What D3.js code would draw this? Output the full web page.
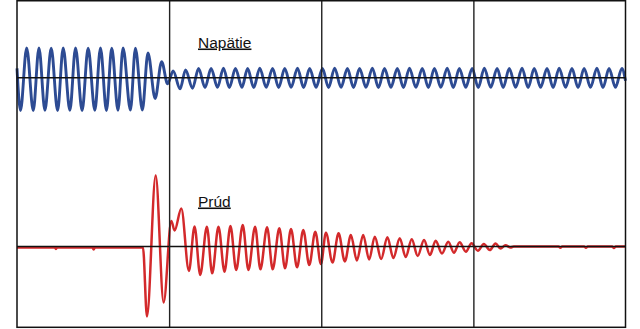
<!DOCTYPE html>
<html>
<head>
<meta charset="utf-8">
<script src="https://cdn.jsdelivr.net/npm/d3@7"></script>
<style>
  body { margin: 0; background: #fff; }
  svg { display: block; }
</style>
</head>
<body>
<script>
// peaks: [time ms, value]
const napatie = [
  [0,0.30],[5.7,-1.06],[15.9,0.96],[26.7,-1.06],[36.1,0.96],[45.9,-1.05],[56.2,0.95],[66.7,-1.06],
  [75.9,0.96],[86.9,-1.05],[96.2,0.96],[107,-1.06],[116.9,0.95],[127.9,-1.05],[137.2,0.96],[147,-1.06],
  [155.7,0.95],[166,-1.05],[174.3,0.96],[186.4,-1.04],[194.6,0.95],[206,-1.04],
  [215.2,0.80],[227,-0.67],[237.7,0.52],[247.5,-0.20],[256.6,0.22],[268,-0.36],[277,0.25],[288.5,-0.34],[298.4,0.30],
  [309,-0.32],[319,0.30],[329.5,-0.31],[339.3,0.31],[349,-0.32],[359,0.30],[369.7,-0.31],[379,0.30],
  [389,-0.32],[399,0.31],[409.5,-0.31],[420,0.30],[430,-0.32],[440,0.30],[450.5,-0.31],[461,0.31],
  [471,-0.32],[481,0.30],[491.5,-0.31],[502,0.30],[512,-0.32],[522,0.31],[532.5,-0.31],[543,0.30],
  [553,-0.32],[563,0.30],[573.5,-0.31],[584,0.31],[594,-0.32],[604,0.30],[614.5,-0.31],[625,0.30],
  [635,-0.32],[645,0.31],[655.5,-0.31],[666,0.30],[676,-0.32],[686,0.30],[696.5,-0.31],[707,0.31],
  [717,-0.32],[727,0.30],[737.5,-0.31],[748,0.30],[758,-0.32],[768,0.31],[778.5,-0.31],[789,0.30],
  [799,-0.32],[809,0.30],[819.5,-0.31],[830,0.31],[840,-0.32],[850,0.30],[860.5,-0.31],[871,0.30],
  [881,-0.32],[891,0.31],[901.5,-0.31],[912,0.30],[922,-0.32],[932,0.30],[942.5,-0.31],[953,0.31],
  [963,-0.32],[973,0.30],[983.5,-0.31],[994,0.30],[1000,-0.10]
];

const prud = [
  [0,-0.1],[62,-0.1],[64,-0.25],[66,-0.1],[124,-0.1],[126,-0.3],[128,-0.1],
  [207,-0.1],[213.6,-7.0],[227.9,7.1],[241,-5.6],[253.6,2.55],[259,1.6],[270,3.8],
  [282.5,-2.45],[291.8,2.0],[301.1,-2.85],[312,1.98],[320.8,-2.68],[331.1,1.98],[341,-2.52],
  [350.8,2.05],[360.2,-2.35],[371,2.15],[380.3,-2.35],[391.3,1.98],[400,-2.28],[411,1.92],
  [420.2,-2.28],[431.1,1.82],[440.5,-2.18],[450.3,1.75],[460.2,-2.08],[470.5,1.65],[480.3,-1.85],
  [490.2,1.48],[499.5,-1.75],[507.7,1.38],[518.5,-1.6],[528.4,1.32],[538.8,-1.5],[548.7,1.15],
  [558.5,-1.4],[568.9,1.15],[578.7,-1.3],[588,0.98],[598.4,-1.25],[608.7,0.92],[618.5,-1.15],
  [629,0.82],[638.8,-1.05],[648.7,0.72],[658.5,-0.95],[668.9,0.65],[678.7,-0.85],[688,0.58],
  [698.4,-0.7],[708.7,0.48],[718,-0.62],[727.4,0.42],[737.7,-0.52],[747,0.32],[757.4,-0.42],
  [767.2,0.25],[777,-0.35],[786.4,0.3],[794.6,-0.2],[802.8,0.12],[811,-0.1],[816.4,0],
  [890,0],[893,-0.12],[896,0],[932,0],[935,-0.12],[938,0],[978,0],[981,-0.15],[984,0],[1000,0]
];

const gridTicks = [250, 500, 750];
const labels = ["Napätie", "Prúd"];

const width = 640, height = 329;
const frame = {left: 17, right: 625.5, top: 0.75, bottom: 327.3};

const svg = d3.select("body").append("svg")
  .attr("width", width)
  .attr("height", height);

const x = d3.scaleLinear().domain([0, 1000]).range([frame.left, frame.right]);
const yV = d3.scaleLinear().domain([-1, 1]).range([77.7 + 31, 77.7 - 31]);
const yI = d3.scaleLinear().domain([-8, 8]).range([246.5 + 80, 246.5 - 80]);

const lineV = d3.line()
  .x(d => x(d[0]))
  .y(d => yV(d[1]))
  .curve(d3.curveMonotoneX);
const lineI = d3.line()
  .x(d => x(d[0]))
  .y(d => yI(d[1]))
  .curve(d3.curveMonotoneX);

svg.append("path")
  .datum(napatie)
  .attr("fill", "none")
  .attr("stroke", "#2d4b93")
  .attr("stroke-width", 2.9)
  .attr("stroke-linejoin", "round")
  .attr("d", lineV);

svg.append("path")
  .datum(prud)
  .attr("fill", "none")
  .attr("stroke", "#d3292b")
  .attr("stroke-width", 2.5)
  .attr("stroke-linejoin", "round")
  .attr("d", lineI);

// zero lines
svg.append("line")
  .attr("x1", x(0)).attr("x2", x(1000))
  .attr("y1", yV(0)).attr("y2", yV(0))
  .attr("stroke", "#111").attr("stroke-width", 1.5);
svg.append("line")
  .attr("x1", x(0)).attr("x2", x(1000))
  .attr("y1", yI(0)).attr("y2", yI(0))
  .attr("stroke", "#111").attr("stroke-width", 1.5);

// vertical grid
const grid = svg.append("g")
  .attr("transform", "translate(0," + frame.bottom + ")")
  .call(d3.axisBottom(x).tickValues(gridTicks).tickSize(-(frame.bottom - frame.top)).tickFormat(""));
grid.select(".domain").remove();
grid.selectAll(".tick line").attr("stroke", "#222").attr("stroke-width", 1.4);

// frame
svg.append("rect")
  .attr("x", frame.left).attr("y", frame.top)
  .attr("width", frame.right - frame.left)
  .attr("height", frame.bottom - frame.top)
  .attr("fill", "none")
  .attr("stroke", "#111")
  .attr("stroke-width", 1.5);

svg.append("text")
  .attr("x", 198).attr("y", 47.5)
  .attr("font-family", "Liberation Sans, Arial, sans-serif")
  .attr("font-size", 15.5)
  .attr("fill", "#111")
  .attr("text-decoration", "underline")
  .text(labels[0]);

svg.append("text")
  .attr("x", 198).attr("y", 206.5)
  .attr("font-family", "Liberation Sans, Arial, sans-serif")
  .attr("font-size", 15.5)
  .attr("fill", "#111")
  .attr("text-decoration", "underline")
  .text(labels[1]);
</script>
</body>
</html>
